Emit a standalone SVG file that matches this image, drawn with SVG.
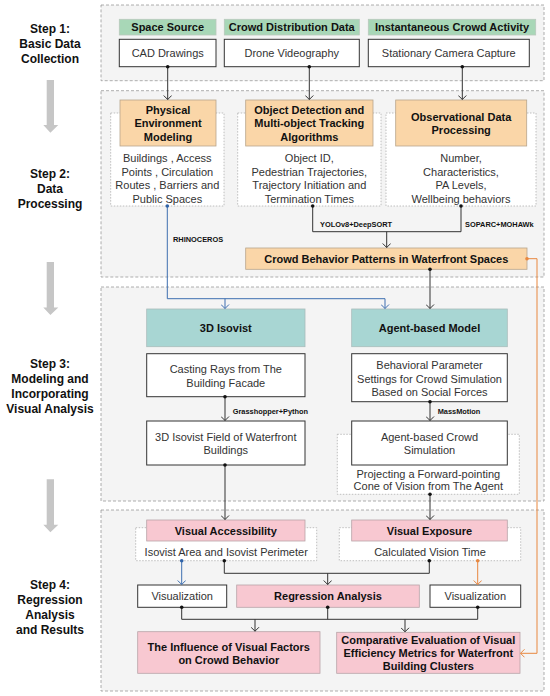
<svg xmlns="http://www.w3.org/2000/svg" width="550" height="696" viewBox="0 0 550 696">
<style>
text{font-family:"Liberation Sans",Arial,Helvetica,sans-serif;text-anchor:middle;}
.step{font-size:12px;font-weight:bold;fill:#111;}
.h{font-size:11px;font-weight:bold;fill:#111;}
.d{font-size:11px;fill:#333;}
.lab{font-size:7.4px;font-weight:bold;fill:#111;text-anchor:start;}
.panel{fill:#f4f4f4;stroke:#9a9a9a;stroke-width:0.8;stroke-dasharray:3 2;}
.green{fill:#a8d7b7;stroke:#b8c8bc;stroke-width:0.8;}
.orange{fill:#fad6a8;stroke:#b8a58c;stroke-width:0.8;}
.teal{fill:#a8d6d3;stroke:#a9bcbb;stroke-width:0.8;}
.pink{fill:#f8c8d1;stroke:#b8a4a8;stroke-width:0.8;}
.white{fill:#fff;stroke:#333;stroke-width:1;}
.dotted{fill:#fff;stroke:#b0b0b0;stroke-width:0.8;stroke-dasharray:1.5 1.5;}
.k{fill:none;stroke:#333;stroke-width:1;}
.b{fill:none;stroke:#3e6fb0;stroke-width:1;}
.o{fill:none;stroke:#e8873f;stroke-width:1;}
.dk{fill:#111;}
.db{fill:#2f63a8;}
.do{fill:#e8873f;}
.garrow{fill:#c6c6c6;}
</style>
<defs>
<marker id="ak" viewBox="0 0 5 9" refX="4.5" refY="4.5" markerWidth="5" markerHeight="9" markerUnits="userSpaceOnUse" orient="auto"><path d="M0.5,0.5 L4.5,4.5 L0.5,8.5" fill="none" stroke="#333" stroke-width="1"/></marker>
<marker id="ab" viewBox="0 0 5 9" refX="4.5" refY="4.5" markerWidth="5" markerHeight="9" markerUnits="userSpaceOnUse" orient="auto"><path d="M0.5,0.5 L4.5,4.5 L0.5,8.5" fill="none" stroke="#3e6fb0" stroke-width="1"/></marker>
<marker id="ao" viewBox="0 0 5 9" refX="4.5" refY="4.5" markerWidth="5" markerHeight="9" markerUnits="userSpaceOnUse" orient="auto"><path d="M0.5,0.5 L4.5,4.5 L0.5,8.5" fill="none" stroke="#e8873f" stroke-width="1"/></marker>
</defs>

<!-- panels -->
<g id="panels">
<rect class="panel" x="101" y="5" width="443" height="75.7"/>
<rect class="panel" x="101" y="90.7" width="443" height="186.3"/>
<rect class="panel" x="101" y="287" width="443" height="214"/>
<rect class="panel" x="101" y="510" width="443" height="181"/>
</g>

<!-- step labels and gray arrows -->
<g id="step-labels">
<text class="step" x="50" y="32.5">Step 1:</text>
<text class="step" x="50" y="47.5">Basic Data</text>
<text class="step" x="50" y="62.5">Collection</text>
<text class="step" x="50" y="178.2">Step 2:</text>
<text class="step" x="50" y="193.2">Data</text>
<text class="step" x="50" y="208.2">Processing</text>
<text class="step" x="50" y="368.2">Step 3:</text>
<text class="step" x="50" y="383.2">Modeling and</text>
<text class="step" x="50" y="398.2">Incorporating</text>
<text class="step" x="50" y="412.5">Visual Analysis</text>
<text class="step" x="50" y="589.2">Step 4:</text>
<text class="step" x="50" y="604.2">Regression</text>
<text class="step" x="50" y="618.5">Analysis</text>
<text class="step" x="50" y="633.5">and Results</text>
</g>
<g id="step-arrows">
<path class="garrow" d="M46.7,80 H54 V125 H58.3 L50.4,132.7 L43.3,125 H46.7 Z"/>
<path class="garrow" d="M46.7,262 H54 V307.5 H58.3 L50.4,315 L43.3,307.5 H46.7 Z"/>
<path class="garrow" d="M46.7,479.3 H54 V524.8 H58.3 L50.4,532.3 L43.3,524.8 H46.7 Z"/>
</g>

<!-- Step 1 nodes -->
<g id="space-source"><rect class="green" x="119.3" y="19.3" width="96.7" height="15.7"/><text class="h" x="167.7" y="31.2">Space Source</text></g>
<g id="crowd-distribution"><rect class="green" x="224.3" y="19.3" width="135" height="15.7"/><text class="h" x="291.8" y="31.2">Crowd Distribution Data</text></g>
<g id="instantaneous"><rect class="green" x="368.3" y="19.3" width="167.4" height="15.7"/><text class="h" x="452" y="31.2">Instantaneous Crowd Activity</text></g>
<g id="cad"><rect class="white" x="119.3" y="39.3" width="96.7" height="27.4"/><text class="d" x="167.7" y="57.3">CAD Drawings</text></g>
<g id="drone"><rect class="white" x="224.3" y="39.3" width="135" height="27.4"/><text class="d" x="291.8" y="57.3">Drone Videography</text></g>
<g id="camera"><rect class="white" x="368.3" y="39.3" width="161" height="27.4"/><text class="d" x="448.8" y="57.3">Stationary Camera Capture</text></g>

<!-- Step 2 nodes -->
<g id="physical">
<rect class="dotted" x="110.7" y="113" width="113.3" height="93"/>
<rect class="orange" x="120" y="100" width="96" height="46"/>
<text class="h" x="168" y="114">Physical</text>
<text class="h" x="168" y="127.3">Environment</text>
<text class="h" x="168" y="141">Modeling</text>
<text class="d" x="167.3" y="162">Buildings , Access</text>
<text class="d" x="167.3" y="175.7">Points , Circulation</text>
<text class="d" x="167.3" y="189.3">Routes , Barriers and</text>
<text class="d" x="167.3" y="203">Public Spaces</text>
</g>
<g id="object-detection">
<rect class="dotted" x="237.7" y="113" width="143.3" height="93"/>
<rect class="orange" x="245.7" y="100" width="127.3" height="46"/>
<text class="h" x="309.3" y="114">Object Detection and</text>
<text class="h" x="309.3" y="127.3">Multi-object Tracking</text>
<text class="h" x="309.3" y="141">Algorithms</text>
<text class="d" x="309.3" y="162">Object ID,</text>
<text class="d" x="309.3" y="175.7">Pedestrian Trajectories,</text>
<text class="d" x="309.3" y="189.3">Trajectory Initiation and</text>
<text class="d" x="309.3" y="203">Termination Times</text>
</g>
<g id="observational">
<rect class="dotted" x="386" y="113" width="150" height="93"/>
<rect class="orange" x="395.7" y="100" width="131" height="46"/>
<text class="h" x="461.2" y="120.7">Observational Data</text>
<text class="h" x="461.2" y="134">Processing</text>
<text class="d" x="461" y="162">Number,</text>
<text class="d" x="461" y="175.7">Characteristics,</text>
<text class="d" x="461" y="189.3">PA Levels,</text>
<text class="d" x="461" y="203">Wellbeing behaviors</text>
</g>
<g id="crowd-patterns"><rect class="orange" x="245.7" y="248" width="281.3" height="21.3"/><text class="h" x="386.3" y="262.6">Crowd Behavior Patterns in Waterfront Spaces</text></g>

<!-- Step 3 nodes -->
<g id="isovist3d"><rect class="teal" x="146.7" y="309" width="158.3" height="37.7"/><text class="h" x="225.8" y="331.7">3D Isovist</text></g>
<g id="agent-model"><rect class="teal" x="351.7" y="309" width="155.6" height="37.7"/><text class="h" x="429.5" y="331.7">Agent-based Model</text></g>
<g id="casting"><rect class="white" x="146.7" y="353.7" width="158.3" height="43"/><text class="d" x="225.8" y="373">Casting Rays from The</text><text class="d" x="225.8" y="386.7">Building Facade</text></g>
<g id="behavioral"><rect class="white" x="351.7" y="353.7" width="155.6" height="48"/><text class="d" x="429.5" y="369">Behavioral Parameter</text><text class="d" x="429.5" y="382.7">Settings for Crowd Simulation</text><text class="d" x="429.5" y="395.5">Based on Social Forces</text></g>
<g id="isovist-field"><rect class="white" x="146.7" y="421" width="158.3" height="44"/><text class="d" x="225.8" y="441.3">3D Isovist Field of Waterfront</text><text class="d" x="225.8" y="454">Buildings</text></g>
<g id="crowd-sim">
<rect class="dotted" x="337.3" y="434.3" width="182" height="60"/>
<rect class="white" x="351.7" y="421" width="155.6" height="44"/>
<text class="d" x="429.5" y="441">Agent-based Crowd</text><text class="d" x="429.5" y="454">Simulation</text>
<text class="d" x="428.3" y="478">Projecting a Forward-pointing</text><text class="d" x="428.3" y="490.3">Cone of Vision from The Agent</text>
</g>

<!-- Step 4 nodes -->
<g id="visual-accessibility">
<rect class="dotted" x="135.7" y="527.7" width="181" height="33"/>
<rect class="pink" x="146.7" y="520" width="158.3" height="21"/>
<text class="h" x="225.8" y="534.5">Visual Accessibility</text>
<text class="d" x="226.2" y="555.7">Isovist Area and Isovist Perimeter</text>
</g>
<g id="visual-exposure">
<rect class="dotted" x="339.3" y="527.7" width="181.4" height="33"/>
<rect class="pink" x="351.7" y="520" width="155.6" height="21"/>
<text class="h" x="429.5" y="534.5">Visual Exposure</text>
<text class="d" x="430" y="555.7">Calculated Vision Time</text>
</g>
<g id="vis-left"><rect class="white" x="137.7" y="585" width="89" height="22.3"/><text class="d" x="182.2" y="600">Visualization</text></g>
<g id="regression"><rect class="pink" x="236.7" y="585" width="182.6" height="22.3"/><text class="h" x="328" y="600">Regression Analysis</text></g>
<g id="vis-right"><rect class="white" x="430" y="585" width="90.7" height="22.3"/><text class="d" x="475.3" y="600">Visualization</text></g>
<g id="influence"><rect class="pink" x="137.7" y="631.7" width="182.3" height="41.6"/><text class="h" x="228.8" y="650.7">The Influence of Visual Factors</text><text class="h" x="228.8" y="664">on Crowd Behavior</text></g>
<g id="comparative"><rect class="pink" x="336.7" y="632.3" width="183.3" height="41"/><text class="h" x="428.3" y="644">Comparative Evaluation of Visual</text><text class="h" x="428.3" y="657">Efficiency Metrics for Waterfront</text><text class="h" x="428.3" y="670">Building Clusters</text></g>

<!-- connectors -->
<g id="connectors">
<path class="k" d="M167.7,66.7 V99.5" marker-end="url(#ak)"/>
<path class="k" d="M309.3,66.7 V99.5" marker-end="url(#ak)"/>
<path class="k" d="M462.3,66.7 V99.5" marker-end="url(#ak)"/>
<path class="k" d="M312.7,206 V231.7 H461 V206"/>
<path class="k" d="M386.7,231.7 V247.5" marker-end="url(#ak)"/>
<path class="b" d="M167.3,206 V298.7 H385 V308.5" marker-end="url(#ab)"/>
<path class="b" d="M225,298.7 V308.5" marker-end="url(#ab)"/>
<path class="k" d="M430,269.3 V308.5" marker-end="url(#ak)"/>
<path class="o" d="M527,258.7 H537 V653.3 H520.5" marker-end="url(#ao)"/>
<path class="k" d="M225,396.7 V420.5" marker-end="url(#ak)"/>
<path class="k" d="M430,401.7 V420.5" marker-end="url(#ak)"/>
<path class="k" d="M225,465 V519.5" marker-end="url(#ak)"/>
<path class="k" d="M430,494.3 V519.5" marker-end="url(#ak)"/>
<path class="b" d="M181.7,560.7 V584.5" marker-end="url(#ab)"/>
<path class="o" d="M477.7,560.7 V584.5" marker-end="url(#ao)"/>
<path class="k" d="M224.3,560.7 V573.3 H429.3 V560.7"/>
<path class="k" d="M327.7,573.3 V584.5" marker-end="url(#ak)"/>
<path class="k" d="M181.7,607.3 V619.3 H477.7 V607.3"/>
<path class="k" d="M327.7,607.3 V619.3"/>
<path class="k" d="M255,619.3 V631.2" marker-end="url(#ak)"/>
<path class="k" d="M405,619.3 V631.8" marker-end="url(#ak)"/>
<circle class="dk" cx="167.7" cy="66.7" r="1.8"/>
<circle class="dk" cx="309.3" cy="66.7" r="1.8"/>
<circle class="dk" cx="462.3" cy="66.7" r="1.8"/>
<circle class="db" cx="167.3" cy="206" r="1.8"/>
<circle class="dk" cx="312.7" cy="206" r="1.8"/>
<circle class="dk" cx="461" cy="206" r="1.8"/>
<circle class="dk" cx="430" cy="269.3" r="1.8"/>
<circle class="do" cx="527" cy="258.7" r="1.8"/>
<circle class="dk" cx="225" cy="396.7" r="1.8"/>
<circle class="dk" cx="430" cy="401.7" r="1.8"/>
<circle class="dk" cx="225" cy="465" r="1.8"/>
<circle class="dk" cx="430" cy="494.3" r="1.8"/>
<circle class="db" cx="181.7" cy="560.7" r="1.8"/>
<circle class="dk" cx="224.3" cy="560.7" r="1.8"/>
<circle class="dk" cx="429.3" cy="560.7" r="1.8"/>
<circle class="do" cx="477.7" cy="560.7" r="1.8"/>
<circle class="dk" cx="181.7" cy="607.3" r="1.8"/>
<circle class="dk" cx="327.7" cy="607.3" r="1.8"/>
<circle class="dk" cx="477.7" cy="607.3" r="1.8"/>
<text class="lab" x="320" y="226.7">YOLOv8+DeepSORT</text>
<text class="lab" x="465" y="226.7">SOPARC+MOHAWk</text>
<text class="lab" x="173" y="241.7">RHINOCEROS</text>
<text class="lab" x="232.7" y="414.4">Grasshopper+Python</text>
<text class="lab" x="437.7" y="414.4">MassMotion</text>
</g>
</svg>
